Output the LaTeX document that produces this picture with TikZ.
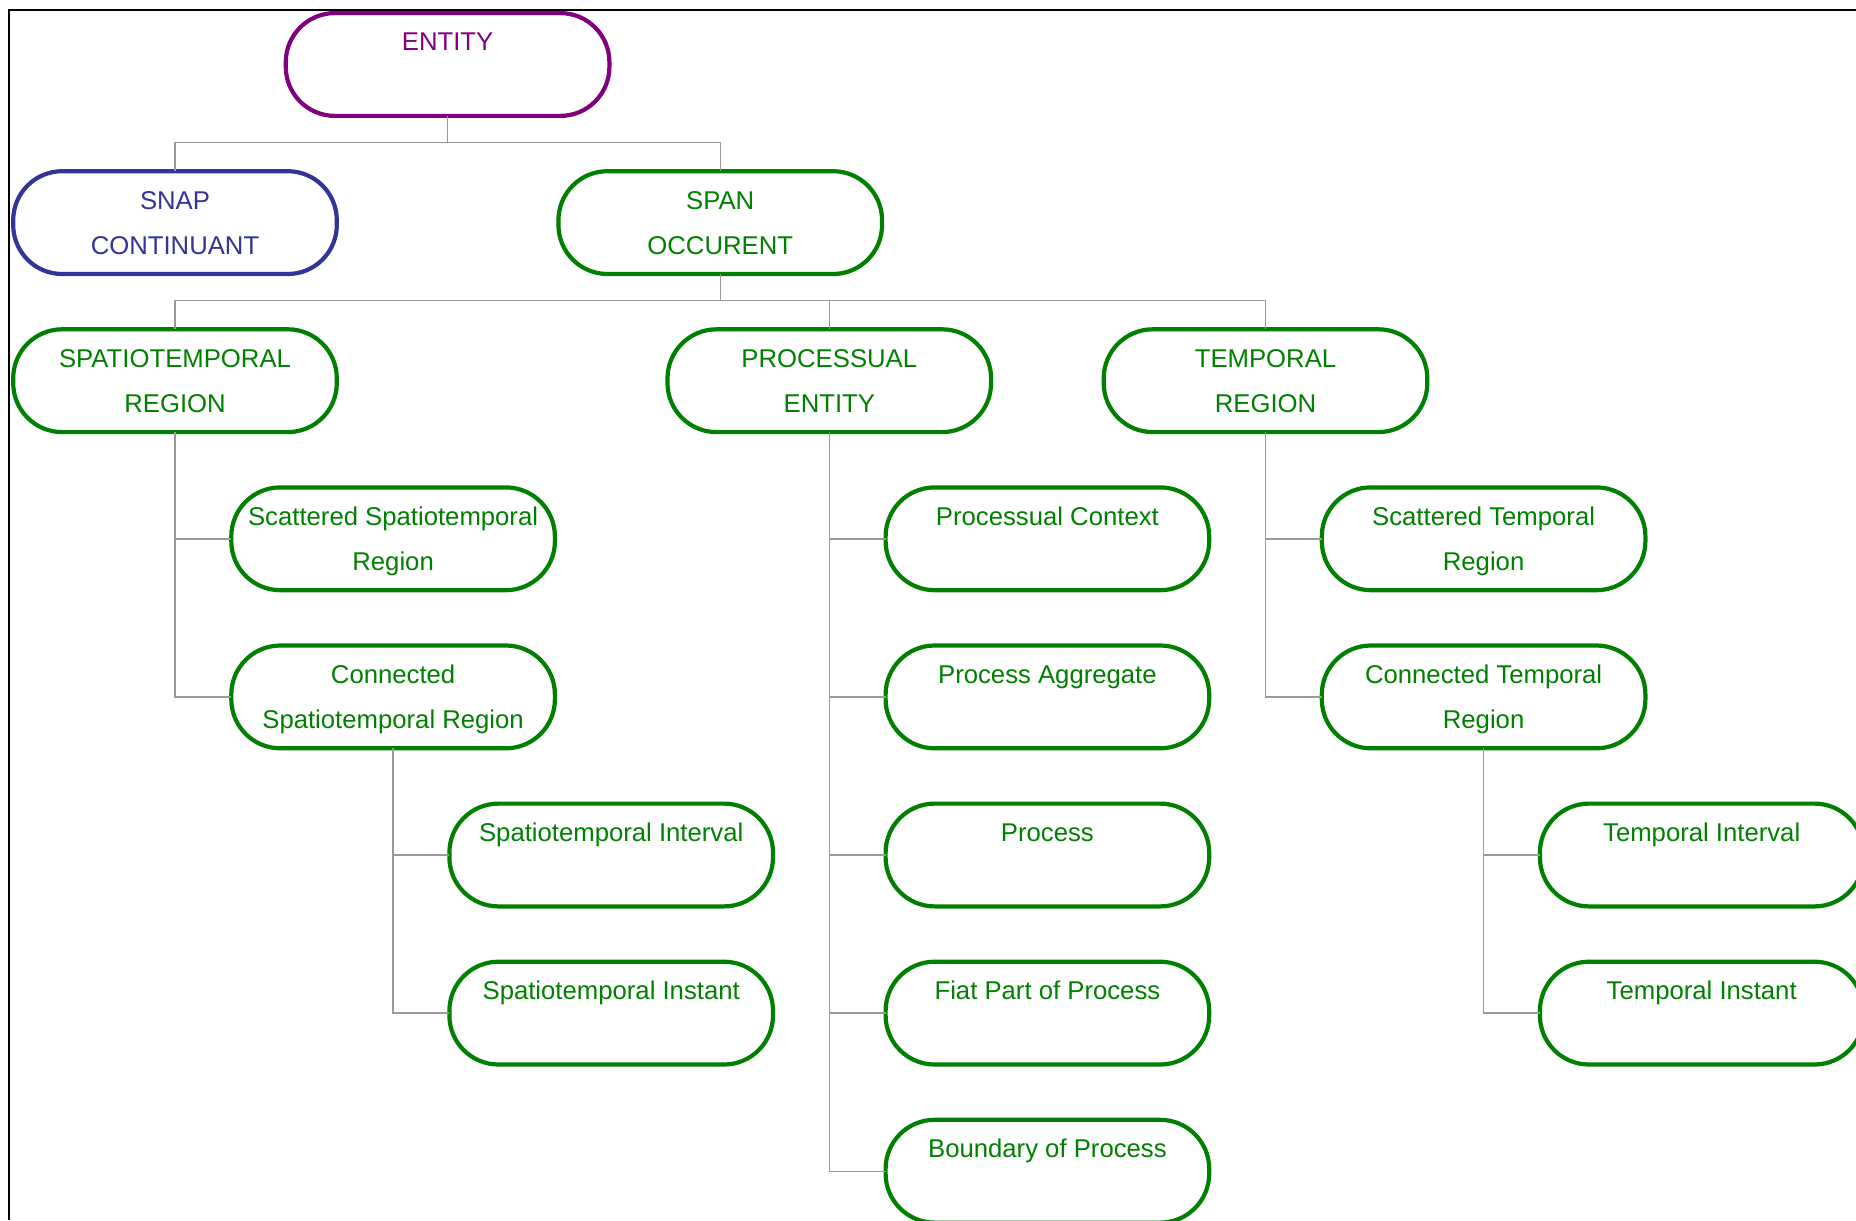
\documentclass[tikz,border=0pt]{standalone}
\usepackage{fontspec}
\setmainfont{Liberation Sans}
\definecolor{entpurple}{HTML}{800080}
\definecolor{snapblue}{HTML}{333399}
\definecolor{spangreen}{HTML}{008000}
\definecolor{conngray}{HTML}{9A9A9A}
\begin{document}
\begin{tikzpicture}[x=0.5pt,y=-0.5pt,
  box/.style={draw, rounded corners=24.5pt, line width=2.1pt, minimum width=161.8pt,
    minimum height=51.4pt, inner sep=0pt, outer sep=0pt, align=center,
    font=\fontsize{12.85}{22.5}\selectfont},
  grn/.style={box, draw=spangreen, text=spangreen},
  conn/.style={draw=conngray, line width=0.7pt}]
\useasboundingbox (0,0) rectangle (1856,1220);
\clip (0,0) rectangle (1856,1220);
\draw[black, line width=0.8pt] (1856,10) -- (9,10) -- (9,1220);
% rows: 64.5 + 158.1 r ; columns step 218.1
\node[box, draw=entpurple, text=entpurple] (entity) at (447.6,64.5) {{\strut ENTITY}\\{\strut}};
\node[box, draw=snapblue, text=snapblue] (snap) at (175,222.6) {{\strut SNAP}\\{\strut CONTINUANT}};
\node[grn] (span) at (720.25,222.6) {{\strut SPAN}\\{\strut OCCURENT}};
\node[grn] (str) at (175,380.7) {{\strut SPATIOTEMPORAL}\\{\strut REGION}};
\node[grn] (pe) at (829.3,380.7) {{\strut PROCESSUAL}\\{\strut ENTITY}};
\node[grn] (tr) at (1265.5,380.7) {{\strut TEMPORAL}\\{\strut REGION}};
\node[grn] (sstr) at (393.1,538.8) {{\strut Scattered Spatiotemporal}\\{\strut Region}};
\node[grn] (cstr) at (393.1,696.9) {{\strut Connected}\\{\strut Spatiotemporal Region}};
\node[grn] (sti) at (611.2,855) {{\strut Spatiotemporal Interval}\\{\strut}};
\node[grn] (stin) at (611.2,1013.1) {{\strut Spatiotemporal Instant}\\{\strut}};
\node[grn] (pc) at (1047.4,538.8) {{\strut Processual Context}\\{\strut}};
\node[grn] (pa) at (1047.4,696.9) {{\strut Process Aggregate}\\{\strut}};
\node[grn] (pr) at (1047.4,855) {{\strut Process}\\{\strut}};
\node[grn] (fp) at (1047.4,1013.1) {{\strut Fiat Part of Process}\\{\strut}};
\node[grn] (bp) at (1047.4,1171.2) {{\strut Boundary of Process}\\{\strut}};
\node[grn] (stre) at (1483.6,538.8) {{\strut Scattered Temporal}\\{\strut Region}};
\node[grn] (ctre) at (1483.6,696.9) {{\strut Connected Temporal}\\{\strut Region}};
\node[grn] (ti) at (1701.7,855) {{\strut Temporal Interval}\\{\strut}};
\node[grn] (tin) at (1701.7,1013.1) {{\strut Temporal Instant}\\{\strut}};
% connectors
\draw[conn] (entity.south) -- ++(0,26.5) -| (snap.north);
\draw[conn] (entity.south) -- ++(0,26.5) -| (span.north);
\draw[conn] (span.south) -- ++(0,26.5) -| (str.north);
\draw[conn] (span.south) -- ++(0,26.5) -| (pe.north);
\draw[conn] (span.south) -- ++(0,26.5) -| (tr.north);
\draw[conn] (str.south) |- (sstr.west);
\draw[conn] (str.south) |- (cstr.west);
\draw[conn] (cstr.south) |- (sti.west);
\draw[conn] (cstr.south) |- (stin.west);
\draw[conn] (pe.south) |- (pc.west);
\draw[conn] (pe.south) |- (pa.west);
\draw[conn] (pe.south) |- (pr.west);
\draw[conn] (pe.south) |- (fp.west);
\draw[conn] (pe.south) |- (bp.west);
\draw[conn] (tr.south) |- (stre.west);
\draw[conn] (tr.south) |- (ctre.west);
\draw[conn] (ctre.south) |- (ti.west);
\draw[conn] (ctre.south) |- (tin.west);
\end{tikzpicture}
\end{document}
